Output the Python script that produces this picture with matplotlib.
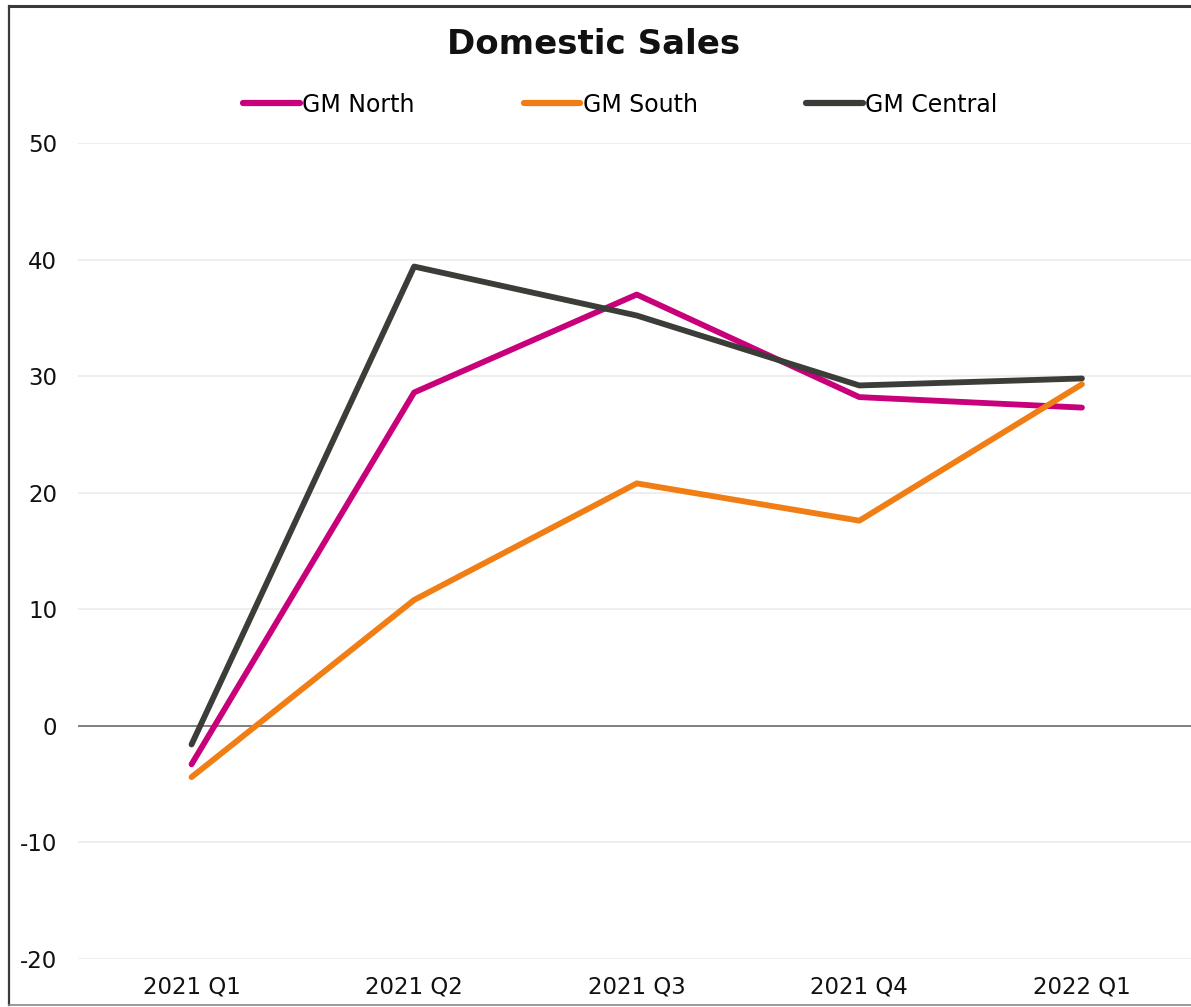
import matplotlib.pyplot as plt
from matplotlib.lines import Line2D

plt.rcParams['font.family'] = ['DejaVu Sans']
plt.rcParams['axes.unicode_minus'] = False

quarters = ['2021 Q1', '2021 Q2', '2021 Q3', '2021 Q4', '2022 Q1']
gm_north = [-3.3, 28.6, 37.0, 28.2, 27.3]
gm_south = [-4.4, 10.8, 20.8, 17.6, 29.3]
gm_central = [-1.6, 39.4, 35.2, 29.2, 29.8]
y_ticks = [-20, -10, 0, 10, 20, 30, 40, 50]

fig = plt.figure(figsize=(11.91, 10.07), dpi=100)
ax = fig.add_axes([0.0655, 0.0477, 0.9345, 0.8103])

x = range(len(quarters))
ax.plot(x, gm_north, color='#C8007A', lw=4.2, solid_capstyle='round', label='GM North', zorder=3)
ax.plot(x, gm_south, color='#F07E14', lw=4.2, solid_capstyle='round', label='GM South', zorder=3)
ax.plot(x, gm_central, color='#3B3D39', lw=4.2, solid_capstyle='round', label='GM Central', zorder=3)

ax.set_xlim(-0.51, 4.49)
ax.set_ylim(-20, 50)
ax.set_yticks(y_ticks)
ax.set_xticks(list(x))
ax.set_xticklabels(quarters)
ax.grid(axis='y', color='#EBEBEB', lw=1.2)
ax.axhline(0, color='#808080', lw=1.4, zorder=2)
for s in ax.spines.values():
    s.set_visible(False)
ax.tick_params(length=0, labelsize=16.5, colors='#111111')
ax.tick_params(axis='y', pad=15)
ax.tick_params(axis='x', pad=12)

fig.text(0.498, 0.956, 'Domestic Sales', ha='center', va='center', fontsize=24.5, fontweight='bold', color='#111111')

leg = fig.legend(loc='center', bbox_to_anchor=(0.521, 0.896), ncol=3, frameon=False,
                 fontsize=17, handlelength=2.4, handletextpad=0.1, columnspacing=4.6)
for h in leg.get_lines():
    h.set_linewidth(4.5)

# frame around the chart
fig.add_artist(Line2D([9 / 1191, 1], [1 - 6 / 1007, 1 - 6 / 1007], color='#3a3a3a', lw=2.2,
                      transform=fig.transFigure))
fig.add_artist(Line2D([9 / 1191, 9 / 1191], [2 / 1007, 1 - 6 / 1007], color='#3a3a3a', lw=1.6,
                      transform=fig.transFigure))
fig.add_artist(Line2D([9 / 1191, 1], [2 / 1007, 2 / 1007], color='#888888', lw=1.2,
                      transform=fig.transFigure))

fig.savefig('out.png', dpi=100)
